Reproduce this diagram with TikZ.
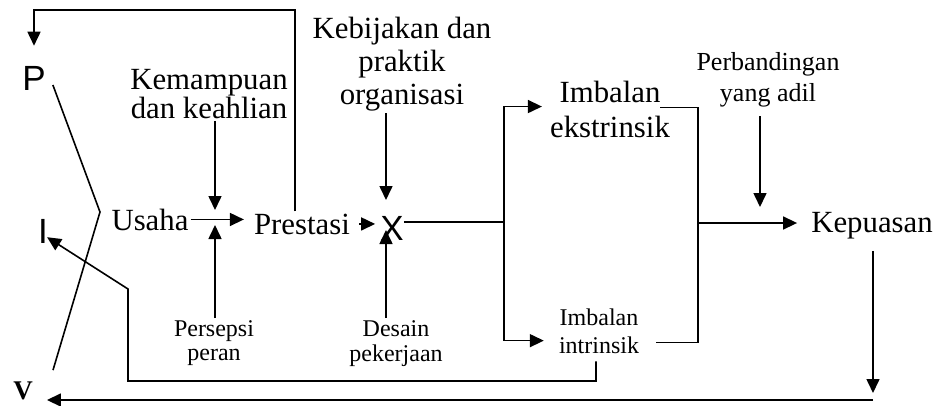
\documentclass[tikz,border=0pt]{standalone}
\usepackage{fontspec}
\setmainfont{Liberation Serif}
\newfontfamily\hurufsans{Liberation Sans}
\usetikzlibrary{arrows.meta, calc}

\begin{document}
\begin{tikzpicture}[x=1pt, y=-1pt,
  garis/.style={line width=1.6pt},
  panah/.style={garis, -{Triangle[length=14pt,width=13pt]}},
  besar/.style={font=\fontsize{30.8}{#1}\selectfont, align=center, inner sep=2pt},
  besar/.default=31,
  kecil/.style={font=\fontsize{24}{#1}\selectfont, align=center, inner sep=2pt},
  kecil/.default=26,
  huruf/.style={font=\hurufsans\fontsize{35}{35}\selectfont, inner sep=0pt, anchor=base}]
\useasboundingbox (0,0) rectangle (940,405);
% Huruf P, I, V
\node[huruf] (P) at (34,90) {P};
\node[huruf] (I) at (43,243) {I};
\node[font=\bfseries\fontsize{27}{27}\selectfont, inner sep=0pt, anchor=base] (V) at (23,399) {V};
% Variabel utama
\node[besar, anchor=base] (usaha) at (150,230) {Usaha};
\node[besar, anchor=base] (prestasi) at (302,234) {Prestasi};
\node[huruf] (kali) at (392,240) {X};
\node[besar, anchor=base] (kepuasan) at (872,232) {Kepuasan};
\node[besar=29, anchor=north] (kemampuan) at (209,67) {Kemampuan\\dan keahlian};
\node[besar=33, anchor=north] (kebijakan) at (402,15) {Kebijakan dan\\praktik\\organisasi};
\node[besar=35, anchor=north] (ekstrinsik) at (610,79) {Imbalan\\ekstrinsik};
\node[kecil=24, anchor=north] (persepsi) at (214,318) {Persepsi\\peran};
\node[kecil=25, anchor=north] (desain) at (396,318) {Desain\\pekerjaan};
\node[kecil=28, anchor=north] (intrinsik) at (599,307) {Imbalan\\intrinsik};
\node[kecil, font=\fontsize{26}{31}\selectfont, anchor=north] (perbandingan) at (768,50) {Perbandingan\\yang adil};
% Titik bantu
\coordinate (m1) at (215,218);
\coordinate (m2) at (386,221);
\coordinate (m3) at (760,223);
\coordinate (cab) at (504,222);
\coordinate (gab) at (698,223);
\coordinate (atas) at (295,10);
\coordinate (pv) at (100,212);
\coordinate (kiri) at (128,289);
\coordinate (sudut) at (128,381);
\coordinate (bawah) at (873,400);
% Usaha -> Prestasi -> X
\draw[panah, shorten >=8pt] (usaha.east) -- (usaha.east -| prestasi.west);
\draw[panah, shorten <=7pt, shorten >=5pt] (prestasi.east) -- (prestasi.east -| kali.west);
% Panah dari atas dan bawah
\draw[panah, shorten >=8pt] (kemampuan.south -| m1) -- (m1);
\draw[panah, shorten >=7pt] (persepsi.north -| m1) -- (m1);
\draw[panah, shorten >=21pt] (kebijakan.south -| m2) -- (m2);
\draw[panah, shorten >=9pt] (desain.north -| m2) -- (m2);
% Cabang ke imbalan
\draw[garis] (kali.east |- cab) -- (cab);
\draw[panah] (cab) |- ($(ekstrinsik.west)+(-6,-3)$);
\draw[panah] (cab) |- ($(intrinsik.west)+(-13,9)$);
% Imbalan -> Kepuasan
\draw[garis] ($(ekstrinsik.east)+(-12,-2)$) -| (gab) |- ($(intrinsik.east)+(15,11)$);
\draw[panah, shorten >=12pt] (gab) -- (gab -| kepuasan.west);
\draw[panah, shorten <=7pt, shorten >=16pt] (perbandingan.south -| m3) -- (m3);
% Umpan balik
\draw[panah, shorten <=10pt, shorten >=7pt] (kepuasan.south -| bawah) -- (bawah);
\draw[panah] (bawah) -- ($(V.east |- bawah)+(14,0)$);
\draw[panah, shorten >=20pt] (prestasi.north -| atas) -- (atas) -| (P.north);
\draw[panah] ($(intrinsik.south)+(-3,5)$) |- (sudut) -- (kiri) -- ($(I.south east)+(-1,-6)$);
\draw[garis] ($(P.east)+(7,7)$) -- (pv) -- ($(V.north)+(30,-11)$);
\end{tikzpicture}
\end{document}
